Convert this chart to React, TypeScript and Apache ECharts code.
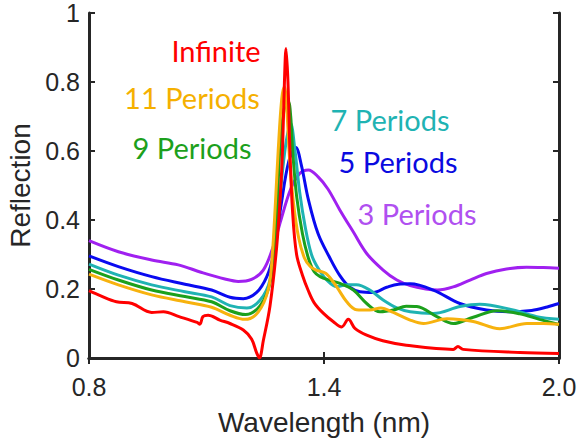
import React, { useEffect, useRef } from "react";
import * as echarts from "echarts";

// Wavelength (nm) / reflection samples
const infiniteX = [0.8, 0.83, 0.87, 0.91, 0.96, 0.99, 1.03, 1.076, 1.083, 1.091, 1.104, 1.134, 1.16, 1.194, 1.215, 1.228, 1.235, 1.245, 1.262, 1.279, 1.289, 1.294, 1.299, 1.303, 1.308, 1.313, 1.32, 1.33, 1.345, 1.36, 1.375, 1.398, 1.424, 1.445, 1.462, 1.479, 1.509, 1.55, 1.61, 1.73, 1.742, 1.755, 1.9, 2.0];
const infiniteY = [0.195, 0.18, 0.163, 0.158, 0.132, 0.134, 0.12, 0.103, 0.098, 0.12, 0.124, 0.11, 0.1, 0.081, 0.055, 0.015, 0.0, 0.05, 0.15, 0.32, 0.48, 0.6, 0.8, 0.897, 0.8, 0.6, 0.42, 0.3, 0.24, 0.195, 0.16, 0.13, 0.105, 0.09, 0.112, 0.086, 0.066, 0.05, 0.037, 0.025, 0.033, 0.025, 0.016, 0.013];

const p11X = [0.8, 0.875, 0.96, 1.045, 1.113, 1.16, 1.198, 1.232, 1.258, 1.268, 1.276, 1.283, 1.292, 1.299, 1.305, 1.312, 1.322, 1.335, 1.35, 1.365, 1.38, 1.405, 1.432, 1.458, 1.483, 1.517, 1.545, 1.577, 1.62, 1.654, 1.714, 1.781, 1.849, 1.918, 1.96, 2.0];
const p11Y = [0.243, 0.212, 0.183, 0.163, 0.147, 0.124, 0.112, 0.133, 0.2, 0.3, 0.45, 0.6, 0.75, 0.786, 0.72, 0.58, 0.45, 0.35, 0.29, 0.265, 0.255, 0.245, 0.207, 0.163, 0.14, 0.139, 0.145, 0.132, 0.11, 0.1, 0.114, 0.106, 0.085, 0.1, 0.1, 0.098];

const p9X = [0.8, 0.875, 0.96, 1.045, 1.113, 1.16, 1.2, 1.237, 1.262, 1.275, 1.281, 1.287, 1.298, 1.309, 1.315, 1.32, 1.33, 1.345, 1.36, 1.375, 1.39, 1.415, 1.441, 1.475, 1.509, 1.543, 1.577, 1.61, 1.637, 1.688, 1.73, 1.781, 1.841, 1.9, 1.95, 2.0];
const p9Y = [0.257, 0.226, 0.197, 0.178, 0.163, 0.137, 0.126, 0.152, 0.216, 0.33, 0.45, 0.6, 0.72, 0.743, 0.7, 0.6, 0.47, 0.36, 0.29, 0.25, 0.236, 0.225, 0.216, 0.197, 0.158, 0.134, 0.139, 0.15, 0.149, 0.12, 0.1, 0.118, 0.137, 0.128, 0.112, 0.097];

const p7X = [0.8, 0.875, 0.96, 1.045, 1.113, 1.16, 1.203, 1.237, 1.262, 1.28, 1.3, 1.315, 1.326, 1.338, 1.352, 1.368, 1.385, 1.407, 1.432, 1.458, 1.483, 1.517, 1.551, 1.586, 1.62, 1.679, 1.747, 1.798, 1.883, 1.943, 2.0];
const p7Y = [0.272, 0.24, 0.212, 0.192, 0.177, 0.152, 0.145, 0.168, 0.226, 0.38, 0.6, 0.68, 0.6, 0.48, 0.38, 0.3, 0.26, 0.226, 0.207, 0.212, 0.212, 0.197, 0.168, 0.145, 0.134, 0.129, 0.149, 0.156, 0.139, 0.12, 0.112];

const p5X = [0.8, 0.875, 0.96, 1.045, 1.113, 1.16, 1.194, 1.228, 1.254, 1.271, 1.29, 1.31, 1.328, 1.342, 1.36, 1.385, 1.415, 1.441, 1.466, 1.492, 1.526, 1.56, 1.59, 1.62, 1.679, 1.747, 1.815, 1.87, 1.93, 1.97, 2.0];
const p5Y = [0.296, 0.265, 0.236, 0.214, 0.197, 0.176, 0.172, 0.19, 0.236, 0.3, 0.44, 0.57, 0.61, 0.56, 0.46, 0.36, 0.29, 0.238, 0.205, 0.192, 0.19, 0.205, 0.214, 0.215, 0.197, 0.158, 0.139, 0.134, 0.138, 0.148, 0.158];

const p3X = [0.8, 0.875, 0.96, 1.028, 1.088, 1.147, 1.181, 1.215, 1.245, 1.268, 1.29, 1.315, 1.338, 1.36, 1.385, 1.41, 1.44, 1.475, 1.509, 1.551, 1.586, 1.62, 1.66, 1.69, 1.73, 1.773, 1.815, 1.866, 1.917, 1.96, 2.0];
const p3Y = [0.34, 0.308, 0.284, 0.27, 0.248, 0.229, 0.222, 0.228, 0.255, 0.315, 0.4, 0.49, 0.535, 0.545, 0.525, 0.49, 0.43, 0.365, 0.303, 0.255, 0.226, 0.21, 0.2, 0.197, 0.206, 0.226, 0.245, 0.258, 0.263, 0.262, 0.26];

const seriesNames = ["3 Periods", "5 Periods", "7 Periods", "9 Periods", "11 Periods", "Infinite"];
const seriesX = [p3X, p5X, p7X, p9X, p11X, infiniteX];
const seriesY = [p3Y, p5Y, p7Y, p9Y, p11Y, infiniteY];
const lineColors = ["#a020f0", "#0a0af0", "#1fb3b3", "#1ca01c", "#f7b20e", "#ff0000"];
const labelColors = ["#b050f0", "#0a0ae0", "#1fb3b3", "#1ca01c", "#f5b000", "#ff0000"];

const xTicks = [0.8, 1.4, 2.0];

const AXIS = "#262626";

export default function App() {
  const ref = useRef<HTMLDivElement>(null);
  useEffect(() => {
    if (!ref.current) return;
    const chart = echarts.init(ref.current, null, { renderer: "svg" });
    const labelPos: Record<string, [number, number]> = {
      "Infinite": [216, 50],
      "11 Periods": [192, 97],
      "9 Periods": [192, 147],
      "7 Periods": [390, 119],
      "5 Periods": [398, 161],
      "3 Periods": [417, 213],
    };
    const mirror = {
      axisLine: { show: true, lineStyle: { color: AXIS, width: 3 } },
      axisLabel: { show: false },
      splitLine: { show: false },
    };
    chart.setOption({
      animation: false,
      backgroundColor: "#ffffff",
      grid: { left: 89, right: 21, top: 13, bottom: 82, containLabel: false, outerBoundsMode: "none" },
      xAxis: [
        {
          type: "value",
          min: 0.8,
          max: 2.0,
          position: "bottom",
          name: "Wavelength (nm)",
          nameLocation: "middle",
          nameGap: 50,
          nameTextStyle: { fontFamily: "Liberation Sans", fontSize: 28, color: AXIS },
          axisLine: { show: true, lineStyle: { color: AXIS, width: 3 } },
          axisTick: { show: true, inside: true, length: 6, lineStyle: { color: AXIS, width: 2 }, customValues: xTicks },
          axisLabel: {
            fontFamily: "Liberation Sans",
            fontSize: 25,
            color: AXIS,
            margin: 16,
            customValues: xTicks,
            formatter: (v: number) => v.toFixed(1),
          },
          splitLine: { show: false },
        },
        {
          type: "value",
          min: 0.8,
          max: 2.0,
          position: "top",
          ...mirror,
          axisTick: { show: true, inside: true, length: 6, lineStyle: { color: AXIS, width: 2 }, customValues: xTicks },
        },
      ],
      yAxis: [
        {
          type: "value",
          min: 0,
          max: 1,
          interval: 0.2,
          position: "left",
          name: "Reflection",
          nameLocation: "middle",
          nameGap: 54,
          nameTextStyle: { fontFamily: "Liberation Sans", fontSize: 28, color: AXIS },
          axisLine: { show: true, lineStyle: { color: AXIS, width: 3 } },
          axisTick: { show: true, inside: true, length: 6, lineStyle: { color: AXIS, width: 2 } },
          axisLabel: { fontFamily: "Liberation Sans", fontSize: 25, color: AXIS, margin: 9 },
          splitLine: { show: false },
        },
        {
          type: "value",
          min: 0,
          max: 1,
          interval: 0.2,
          position: "right",
          ...mirror,
          axisTick: { show: true, inside: true, length: 6, lineStyle: { color: AXIS, width: 2 } },
        },
      ],
      series: seriesNames.map((name, i) => ({
        name,
        type: "line",
        xAxisIndex: 0,
        yAxisIndex: 0,
        data: seriesX[i].map((x, j) => [x, seriesY[i][j]]),
        showSymbol: false,
        smooth: 0.35,
        lineStyle: { color: lineColors[i], width: 3 },
        z: 2 + i,
      })),
      graphic: seriesNames.map((name, i) => ({
        type: "text",
        x: labelPos[name][0],
        y: labelPos[name][1],
        style: {
          text: name,
          fill: labelColors[i],
          font: "29px Lato",
          align: "center",
          verticalAlign: "middle",
        },
        z: 100,
      })),
    });
    return () => chart.dispose();
  }, []);
  return (
    <div
      ref={ref}
      style={{ position: "fixed", left: 0, top: 0, width: 580, height: 440, background: "#fff" }}
    />
  );
}
